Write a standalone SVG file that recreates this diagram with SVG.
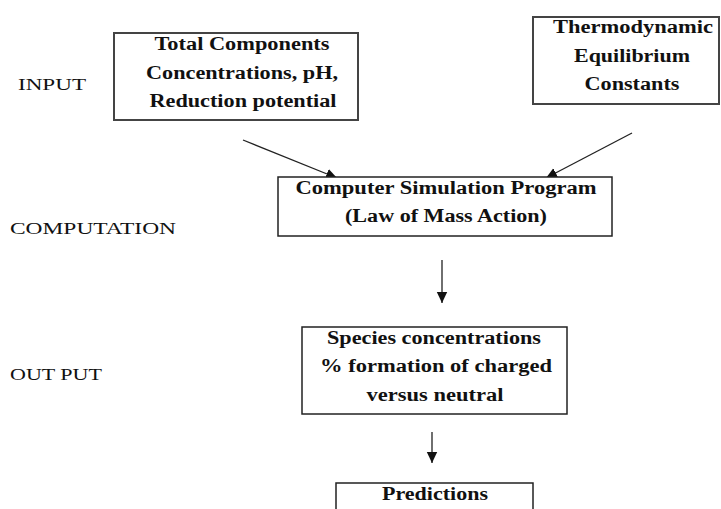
<svg xmlns="http://www.w3.org/2000/svg" width="721" height="509" viewBox="0 0 721 509">
<style>
  .box { fill: #fff; stroke: #222; stroke-width: 1.5; }
  .box2 { fill: #fff; stroke: #444; stroke-width: 2; }
  .t { font-family: "Liberation Serif", "Times New Roman", serif; font-weight: bold; font-size: 18px; fill: #111; text-anchor: middle; }
  .lbl { font-family: "Liberation Serif", "Times New Roman", serif; font-size: 16.5px; fill: #111; }
  .conn { stroke: #222; stroke-width: 1.3; fill: none; marker-end: url(#ah); }
</style>
<defs>
  <marker id="ah" markerUnits="userSpaceOnUse" markerWidth="12" markerHeight="12" viewBox="0 0 12 12" refX="11" refY="6" orient="auto">
    <path d="M0,0.8 L11,6 L0,11.2 Z" fill="#111"/>
  </marker>
</defs>
<rect width="721" height="509" fill="#fff"/>

<g id="labels">
  <text class="lbl" x="18" y="90" textLength="68" lengthAdjust="spacingAndGlyphs">INPUT</text>
  <text class="lbl" x="10" y="234" textLength="166" lengthAdjust="spacingAndGlyphs">COMPUTATION</text>
  <text class="lbl" x="10" y="380" textLength="92" lengthAdjust="spacingAndGlyphs">OUT PUT</text>
</g>

<g id="connectors">
  <line class="conn" x1="243" y1="140" x2="337" y2="178"/>
  <line class="conn" x1="632" y1="133" x2="546" y2="178"/>
  <line class="conn" x1="442" y1="260" x2="442" y2="303"/>
  <line class="conn" x1="432" y1="432" x2="432" y2="463"/>
</g>

<g id="node-input-components">
  <rect class="box2" x="114" y="33" width="244" height="87"/>
  <text class="t" x="242" y="50" textLength="175" lengthAdjust="spacingAndGlyphs">Total Components</text>
  <text class="t" x="242" y="79" textLength="192" lengthAdjust="spacingAndGlyphs">Concentrations, pH,</text>
  <text class="t" x="243" y="107" textLength="187" lengthAdjust="spacingAndGlyphs">Reduction potential</text>
</g>

<g id="node-input-constants">
  <rect class="box2" x="533" y="17" width="186" height="87"/>
  <text class="t" x="633" y="33" textLength="160" lengthAdjust="spacingAndGlyphs">Thermodynamic</text>
  <text class="t" x="632" y="62" textLength="116" lengthAdjust="spacingAndGlyphs">Equilibrium</text>
  <text class="t" x="632" y="90" textLength="95" lengthAdjust="spacingAndGlyphs">Constants</text>
</g>

<g id="node-computation">
  <rect class="box" x="278" y="177" width="334" height="59"/>
  <text class="t" x="446" y="194" textLength="301" lengthAdjust="spacingAndGlyphs">Computer Simulation Program</text>
  <text class="t" x="446" y="222" textLength="202" lengthAdjust="spacingAndGlyphs">(Law of Mass Action)</text>
</g>

<g id="node-output">
  <rect class="box" x="302" y="327" width="265" height="87"/>
  <text class="t" x="434" y="344" textLength="214" lengthAdjust="spacingAndGlyphs">Species concentrations</text>
  <text class="t" x="436" y="372" textLength="232" lengthAdjust="spacingAndGlyphs">% formation of charged</text>
  <text class="t" x="435" y="401" textLength="137" lengthAdjust="spacingAndGlyphs">versus neutral</text>
</g>

<g id="node-predictions">
  <rect class="box" x="336" y="483" width="197" height="40"/>
  <text class="t" x="435" y="500" textLength="106" lengthAdjust="spacingAndGlyphs">Predictions</text>
</g>
</svg>
